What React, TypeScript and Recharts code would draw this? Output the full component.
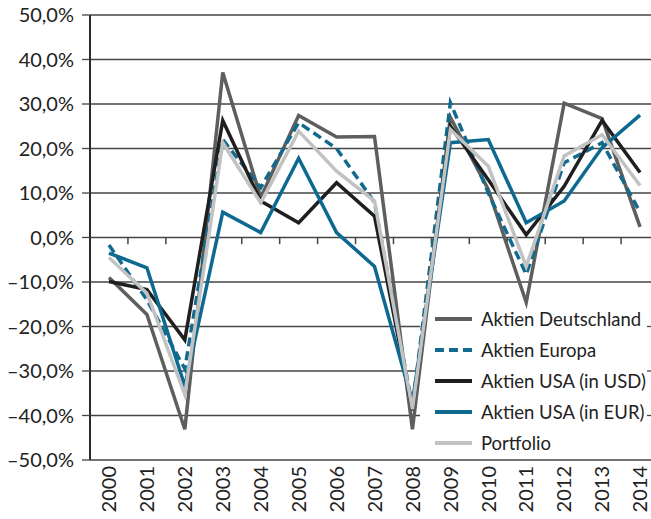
import { LineChart, Line, XAxis, YAxis, CartesianGrid, ReferenceLine } from "recharts";

const years = ["2000", "2001", "2002", "2003", "2004", "2005", "2006", "2007", "2008", "2009", "2010", "2011", "2012", "2013", "2014"];
const deutschland = [-9.0, -17.3, -43.1, 37.1, 9.0, 27.4, 22.6, 22.7, -43.1, 27.0, 10.8, -14.6, 30.2, 26.7, 2.4];
const europa = [-1.7, -14.0, -29.5, 22.0, 11.2, 25.8, 20.0, 7.9, -38.0, 30.3, 10.0, -8.3, 16.8, 21.3, 5.7];
const usaUsd = [-9.9, -11.7, -23.0, 26.3, 8.2, 3.3, 12.3, 4.8, -38.8, 25.0, 13.0, 0.6, 11.5, 26.3, 14.6];
const usaEur = [-3.5, -6.8, -33.4, 5.7, 1.1, 17.8, 1.1, -6.5, -37.0, 21.3, 22.0, 3.3, 8.2, 20.2, 27.5];
const portfolio = [-4.5, -12.5, -35.3, 21.3, 7.8, 23.9, 14.9, 8.2, -38.6, 24.3, 16.0, -6.5, 18.3, 23.1, 11.7];
const yTicks = [-50, -40, -30, -20, -10, 0, 10, 20, 30, 40, 50];

const series = [
  { key: "de", name: "Aktien Deutschland", color: "#5e5e5e", dash: undefined },
  { key: "eu", name: "Aktien Europa", color: "#136a8f", dash: "9 5" },
  { key: "usd", name: "Aktien USA (in USD)", color: "#1f1f1f", dash: undefined },
  { key: "eur", name: "Aktien USA (in EUR)", color: "#0e6991", dash: undefined },
  { key: "pf", name: "Portfolio", color: "#c2c2c2", dash: undefined },
];

const data = years.map((y, i) => ({
  idx: i,
  year: y,
  de: deutschland[i],
  eu: europa[i],
  usd: usaUsd[i],
  eur: usaEur[i],
  pf: portfolio[i],
}));

const font = "Lato, 'Open Sans', sans-serif";
const gridColor = "#454545";

// legend box area (px) where the grid lines are not drawn
const LEG = { left: 420, top: 300, width: 227, height: 155 };

const fmtPct = (v: number) => {
  const s = Math.abs(v).toFixed(1).replace(".", ",") + "%";
  return v < 0 ? "\u2013" + s : s;
};

function GridLine(props: any) {
  const { x1, x2, y1, y2 } = props;
  const inLegend = y1 > LEG.top && y1 < LEG.top + LEG.height;
  if (!inLegend) {
    return <line x1={x1} x2={x2} y1={y1} y2={y2} stroke={gridColor} strokeWidth={1.3} />;
  }
  return (
    <g>
      <line x1={x1} x2={LEG.left} y1={y1} y2={y2} stroke={gridColor} strokeWidth={1.3} />
      <line x1={LEG.left + LEG.width} x2={x2} y1={y1} y2={y2} stroke={gridColor} strokeWidth={1.3} />
    </g>
  );
}

function YearTick({ x, y, payload }: any) {
  return (
    <g transform={`translate(${x},${y})`}>
      <text
        transform="rotate(-90)"
        x={-6}
        y={0}
        dy="0.36em"
        textAnchor="end"
        fontSize={20}
        fontFamily={font}
        fill="#222"
      >
        {years[payload.value]}
      </text>
    </g>
  );
}

function LegendBox() {
  return (
    <div style={styles.legend}>
      {series.map((s) => (
        <div key={s.key} style={styles.row}>
          <svg width={46} height={10} style={{ display: "block" }}>
            <line x1={6} y1={5} x2={43} y2={5} stroke={s.color} strokeWidth={4} strokeDasharray={s.dash} />
          </svg>
          <span style={styles.label}>{s.name}</span>
        </div>
      ))}
    </div>
  );
}

export default function App() {
  const boundaries = years.slice(1).map((_, i) => i + 0.5);
  return (
    <div style={styles.wrap}>
      <LineChart width={660} height={519} data={data} margin={{ top: 15, right: 1, left: 0, bottom: 0 }}>
        <CartesianGrid vertical={false} horizontal={(p: any) => <GridLine key={p.key} {...p} />} />
        <XAxis
          dataKey="idx"
          type="number"
          domain={[-0.5, years.length - 0.5]}
          ticks={years.map((_, i) => i)}
          axisLine={false}
          tickLine={false}
          tickSize={0}
          tickMargin={0}
          height={59}
          interval={0}
          tick={<YearTick />}
        />
        <YAxis
          domain={[-50, 50]}
          ticks={yTicks}
          width={90}
          interval={0}
          tickFormatter={fmtPct}
          tickSize={8}
          tickMargin={8}
          axisLine={{ stroke: "#2a2a2a", strokeWidth: 2 }}
          tickLine={{ stroke: gridColor, strokeWidth: 1.3 }}
          tick={{ fontSize: 20, fontFamily: font, fill: "#222" }}
        />
        {boundaries.map((b) => (
          <ReferenceLine
            key={b}
            segment={[
              { x: b, y: 0 },
              { x: b, y: -1.5 },
            ]}
            stroke={gridColor}
            strokeWidth={1.5}
          />
        ))}
        {series.map((s) => (
          <Line
            key={s.key}
            type="linear"
            dataKey={s.key}
            name={s.name}
            stroke={s.color}
            strokeWidth={3.5}
            strokeDasharray={s.dash}
            dot={false}
            isAnimationActive={false}
          />
        ))}
      </LineChart>
      <LegendBox />
    </div>
  );
}

const styles: Record<string, React.CSSProperties> = {
  wrap: {
    position: "absolute",
    left: 0,
    top: 0,
    width: 651,
    height: 519,
    overflow: "hidden",
    background: "#fff",
  },
  legend: {
    position: "absolute",
    left: LEG.left,
    top: LEG.top,
    width: LEG.width,
    height: LEG.height,
    paddingTop: 3,
    boxSizing: "border-box",
    pointerEvents: "none",
  },
  row: {
    display: "flex",
    alignItems: "center",
    height: 31,
    marginLeft: 9,
  },
  label: {
    fontSize: 18.5,
    fontFamily: font,
    color: "#222",
    marginLeft: 6,
    whiteSpace: "nowrap",
  },
};
